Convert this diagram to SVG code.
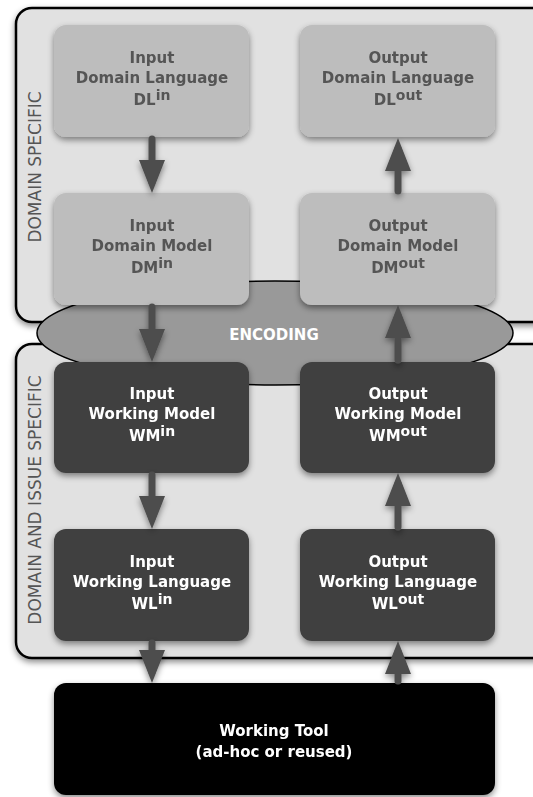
<svg xmlns="http://www.w3.org/2000/svg" width="533" height="797" viewBox="0 0 533 797">
  <style>
    .t { font-family: "DejaVu Sans", "Liberation Sans", sans-serif; font-size: 15px; font-weight: bold; text-anchor: middle; }
    .sup { font-size: 14px; }
    .light .box { fill: #bdbdbd; }
    .light text { fill: #555555; }
    .dark .box { fill: #404040; }
    .dark text { fill: #ffffff; }
    .tool .box { fill: #000000; }
    .tool text { fill: #ffffff; }
    .side { font-family: "DejaVu Sans", "Liberation Sans", sans-serif; font-size: 17px; fill: #555555; text-anchor: middle; }
    .panel { fill: #e1e1e1; stroke: #000; stroke-width: 2.5; }
    .shaft { stroke: #4d4d4d; stroke-width: 7; stroke-linecap: round; fill: none; }
  </style>
  <defs>
    <filter id="shadow" x="-10%" y="-10%" width="120%" height="130%">
      <feDropShadow dx="0" dy="3" stdDeviation="3" flood-color="#000" flood-opacity="0.45"/>
    </filter>
    <marker id="head" markerUnits="userSpaceOnUse" markerWidth="34" markerHeight="26" refX="22" refY="13" orient="auto">
      <path d="M0,0 L33,13 L0,26 z" fill="#4d4d4d"/>
    </marker>
  </defs>

  <!-- panels -->
  <g id="domain-specific">
    <rect class="panel" x="16" y="8" width="540" height="314" rx="16" filter="url(#shadow)"/>
    <text class="side" transform="translate(41,167) rotate(-90)">DOMAIN SPECIFIC</text>
  </g>
  <g id="domain-issue-specific">
    <rect class="panel" x="16" y="344" width="540" height="314" rx="16" filter="url(#shadow)"/>
    <text class="side" transform="translate(41,500) rotate(-90)">DOMAIN AND ISSUE SPECIFIC</text>
  </g>

  <g id="encoding">
    <ellipse cx="275" cy="333" rx="238" ry="52" fill="#999999" stroke="#000" stroke-width="1.5"/>
    <text class="t" x="274" y="340" fill="#ffffff">ENCODING</text>
  </g>

  <!-- nodes -->
  <g id="dl-in" class="light" filter="url(#shadow)">
    <rect class="box" x="54" y="25" width="195" height="112" rx="12"/>
    <text class="t" x="152" y="63">Input</text>
    <text class="t" x="152" y="83">Domain Language</text>
    <text class="t" x="152" y="105">DL<tspan class="sup" dy="-5">in</tspan></text>
  </g>
  <g id="dl-out" class="light" filter="url(#shadow)">
    <rect class="box" x="300" y="25" width="195" height="112" rx="12"/>
    <text class="t" x="398" y="63">Output</text>
    <text class="t" x="398" y="83">Domain Language</text>
    <text class="t" x="398" y="105">DL<tspan class="sup" dy="-5">out</tspan></text>
  </g>
  <g id="dm-in" class="light" filter="url(#shadow)">
    <rect class="box" x="54" y="193" width="195" height="112" rx="12"/>
    <text class="t" x="152" y="231">Input</text>
    <text class="t" x="152" y="251">Domain Model</text>
    <text class="t" x="152" y="273">DM<tspan class="sup" dy="-5">in</tspan></text>
  </g>
  <g id="dm-out" class="light" filter="url(#shadow)">
    <rect class="box" x="300" y="193" width="195" height="112" rx="12"/>
    <text class="t" x="398" y="231">Output</text>
    <text class="t" x="398" y="251">Domain Model</text>
    <text class="t" x="398" y="273">DM<tspan class="sup" dy="-5">out</tspan></text>
  </g>
  <g id="wm-in" class="dark" filter="url(#shadow)">
    <rect class="box" x="54" y="362" width="195" height="111" rx="12"/>
    <text class="t" x="152" y="399">Input</text>
    <text class="t" x="152" y="419">Working Model</text>
    <text class="t" x="152" y="441">WM<tspan class="sup" dy="-5">in</tspan></text>
  </g>
  <g id="wm-out" class="dark" filter="url(#shadow)">
    <rect class="box" x="300" y="362" width="195" height="111" rx="12"/>
    <text class="t" x="398" y="399">Output</text>
    <text class="t" x="398" y="419">Working Model</text>
    <text class="t" x="398" y="441">WM<tspan class="sup" dy="-5">out</tspan></text>
  </g>
  <g id="wl-in" class="dark" filter="url(#shadow)">
    <rect class="box" x="54" y="529" width="195" height="112" rx="12"/>
    <text class="t" x="152" y="567">Input</text>
    <text class="t" x="152" y="587">Working Language</text>
    <text class="t" x="152" y="609">WL<tspan class="sup" dy="-5">in</tspan></text>
  </g>
  <g id="wl-out" class="dark" filter="url(#shadow)">
    <rect class="box" x="300" y="529" width="195" height="112" rx="12"/>
    <text class="t" x="398" y="567">Output</text>
    <text class="t" x="398" y="587">Working Language</text>
    <text class="t" x="398" y="609">WL<tspan class="sup" dy="-5">out</tspan></text>
  </g>
  <g id="working-tool" class="tool" filter="url(#shadow)">
    <rect class="box" x="54" y="683" width="441" height="112" rx="12"/>
    <text class="t" x="274" y="736">Working Tool</text>
    <text class="t" x="274" y="757">(ad-hoc or reused)</text>
  </g>

  <!-- connectors -->
  <g id="connectors" filter="url(#shadow)">
    <line class="shaft" x1="152" y1="139" x2="152" y2="182" marker-end="url(#head)"/>
    <line class="shaft" x1="152" y1="307" x2="152" y2="351" marker-end="url(#head)"/>
    <line class="shaft" x1="152" y1="475" x2="152" y2="518" marker-end="url(#head)"/>
    <line class="shaft" x1="152" y1="643" x2="152" y2="672" marker-end="url(#head)"/>
    <line class="shaft" x1="398" y1="191" x2="398" y2="149" marker-end="url(#head)"/>
    <line class="shaft" x1="398" y1="360" x2="398" y2="316" marker-end="url(#head)"/>
    <line class="shaft" x1="398" y1="527" x2="398" y2="484" marker-end="url(#head)"/>
    <line class="shaft" x1="398" y1="681" x2="398" y2="652" marker-end="url(#head)"/>
  </g>
</svg>
